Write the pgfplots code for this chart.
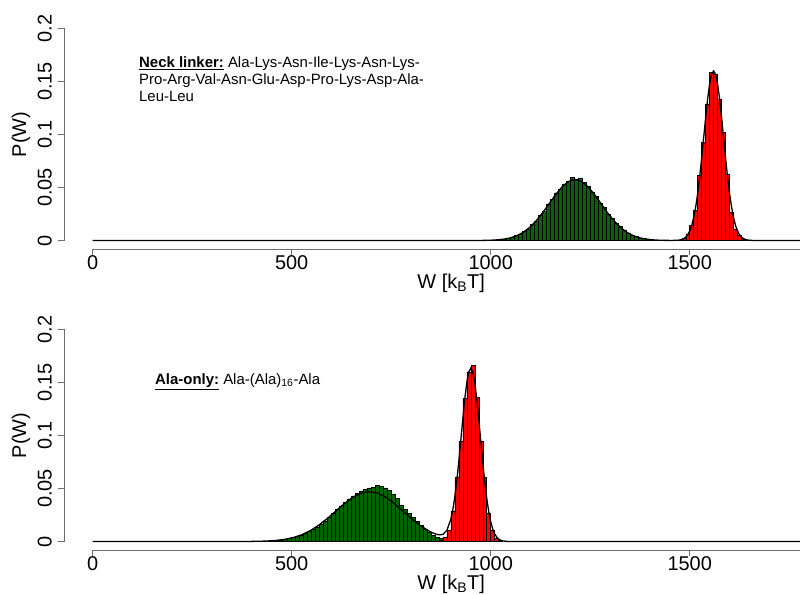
\documentclass[border=0pt]{standalone}
\usepackage{fontspec}
\setmainfont{Liberation Sans}
\usepackage{pgfplots}
\pgfplotsset{compat=1.18}
\definecolor{hgreen}{RGB}{0,100,0}
\definecolor{hred}{RGB}{255,0,0}
\definecolor{axgray}{RGB}{110,110,110}
\pgfplotsset{
  rstyle/.style={
    scale only axis, width=736bp, height=229bp,
    xmin=-72, xmax=1777, ymin=-0.008, ymax=0.208,
    clip=false,
    axis line style={draw=none},
    tick pos=left, tick align=outside,
    major tick length=6bp,
    tick style={axgray, line width=0.8bp},
    xtick={0,500,1000,1500}, xticklabels={0,500,1000,1500},
    ytick={0,0.05,0.1,0.15,0.2}, yticklabels={0,0.05,0.1,0.15,0.2},
    ticklabel style={font=\fontsize{20}{24}\selectfont, inner sep=0pt},
    xticklabel style={anchor=north},
    yticklabel style={rotate=90, anchor=south},
    xticklabel shift=0bp,
    yticklabel shift=6bp,
    xlabel={W [k\textsubscript{B}T]}, ylabel={P(W)},
    label style={font=\fontsize{20}{24}\selectfont, inner sep=0pt},
    xlabel style={at={(axis description cs:0.526,0)}, anchor=north, yshift=-25bp},
    ylabel style={at={([xshift=-33.5bp]axis description cs:0,0.5)}, anchor=south},
  },
  hbar/.style={ybar, bar width=10, bar shift=0pt, draw=black, line width=0.5bp, fill=#1},
  fitline/.style={black, line width=1.3bp, mark=none},
}
\begin{document}
\begin{tikzpicture}
\path[use as bounding box] (0,0) rectangle (800bp,595bp);
% ---------------- top panel ----------------
\begin{axis}[rstyle, at={(64bp,346bp)}, anchor=south west]
\addplot[hbar=hgreen] coordinates {
(985,0.0001) (995,0.0002) (1005,0.0004) (1015,0.0006) (1025,0.0010) (1035,0.0014)
(1045,0.0022) (1055,0.0030) (1065,0.0046) (1075,0.0060) (1085,0.0088) (1095,0.0110)
(1105,0.0152) (1115,0.0185) (1125,0.0240) (1135,0.0280) (1145,0.0342) (1155,0.0388)
(1165,0.0450) (1175,0.0485) (1185,0.0535) (1195,0.0560) (1205,0.0594) (1215,0.0582)
(1225,0.0590) (1235,0.0548) (1245,0.0512) (1255,0.0458) (1265,0.0418) (1275,0.0356)
(1285,0.0310) (1295,0.0250) (1305,0.0210) (1315,0.0160) (1325,0.0130) (1335,0.0094)
(1345,0.0072) (1355,0.0050) (1365,0.0037) (1375,0.0024) (1385,0.0017) (1395,0.0011)
(1405,0.0007) (1415,0.0004) (1425,0.0003) (1435,0.0002) (1445,0.0001)
};
\addplot[hbar=hred] coordinates {
(1475,0.0004) (1485,0.0020) (1495,0.0063) (1505,0.0142) (1515,0.0283) (1525,0.0613)
(1535,0.0928) (1545,0.1290) (1555,0.1588) (1565,0.1566) (1575,0.1336) (1585,0.1022)
(1595,0.0629) (1605,0.0267) (1615,0.0110) (1625,0.0047) (1635,0.0015) (1645,0.0004)
};
\addplot[fitline] coordinates {
(0,0) (952,0.00002) (968.25,0.00005) (984.5,0.00013) (1000.75,0.00029) (1017,0.00064)
(1033.25,0.00131) (1049.5,0.00252) (1065.75,0.00458) (1082,0.00778) (1098.25,0.01244)
(1114.5,0.01867) (1130.75,0.02632) (1147,0.03487) (1163.25,0.04340) (1179.5,0.05074)
(1195.75,0.05573) (1212,0.0575) (1228.25,0.05573) (1244.5,0.05074) (1260.75,0.04340)
(1277,0.03487) (1293.25,0.02632) (1309.5,0.01867) (1325.75,0.01244) (1342,0.00778)
(1358.25,0.00458) (1374.5,0.00252) (1390.75,0.00131) (1407,0.00064) (1423.25,0.00029)
(1439.5,0.00013) (1455.75,0.00008) (1470,0.00027) (1475,0.0005) (1480,0.00096)
(1485,0.0018) (1490,0.0032) (1495,0.0054) (1500,0.0090) (1505,0.0142) (1510,0.0217)
(1515,0.0317) (1520,0.0445) (1525,0.0600) (1530,0.0779) (1535,0.0970) (1540,0.1162)
(1545,0.1336) (1550,0.1477) (1555,0.1568) (1560,0.1600) (1565,0.1568) (1570,0.1477)
(1575,0.1336) (1580,0.1162) (1585,0.0970) (1590,0.0779) (1595,0.0600) (1600,0.0445)
(1605,0.0317) (1610,0.0217) (1615,0.0142) (1620,0.0090) (1625,0.0054) (1630,0.0032)
(1635,0.0018) (1640,0.00096) (1645,0.0005) (1650,0.00024) (1660,0.00005) (1777,0)
};
\draw[axgray, line width=0.8bp] (axis cs:0,-0.008) -- (axis cs:1777,-0.008);
\draw[axgray, line width=0.8bp] (axis cs:-72,0) -- (axis cs:-72,0.2);
\node[anchor=north west, align=left, inner sep=0pt, font=\fontsize{15}{17}\selectfont]
  at (axis cs:116.3,0.1736)
  {\underline{\textbf{Neck linker:}} Ala-Lys-Asn-Ile-Lys-Asn-Lys-\\Pro-Arg-Val-Asn-Glu-Asp-Pro-Lys-Asp-Ala-\\Leu-Leu};
\end{axis}
% ---------------- bottom panel ----------------
\begin{axis}[rstyle, at={(64bp,45bp)}, anchor=south west]
\addplot[hbar=hgreen] coordinates {
(425,0.0002) (435,0.0003) (445,0.0005) (455,0.0008) (465,0.0010) (475,0.0014)
(485,0.0020) (495,0.0027) (505,0.0036) (515,0.0046) (525,0.0060) (535,0.0075)
(545,0.0094) (555,0.0115) (565,0.0138) (575,0.0165) (585,0.0195) (595,0.0228)
(605,0.0262) (615,0.0300) (625,0.0336) (635,0.0370) (645,0.0402) (655,0.0430)
(665,0.0455) (675,0.0478) (685,0.0492) (695,0.0505) (705,0.0512) (715,0.0530)
(725,0.0522) (735,0.0505) (745,0.0480) (755,0.0448) (765,0.0410) (775,0.0345)
(785,0.0300) (795,0.0262) (805,0.0225) (815,0.0190) (825,0.0150) (835,0.0115)
(845,0.0085) (855,0.0060) (865,0.0042) (875,0.0030) (885,0.0020) (895,0.0012)
(905,0.0006) (915,0.0003)
};
\addplot[hbar=hred] coordinates {
(875,0.0010) (885,0.0040) (895,0.0110) (905,0.0290) (915,0.0610) (925,0.0950)
(935,0.1350) (945,0.1600) (955,0.1660) (965,0.1360) (975,0.0950) (985,0.0607)
(995,0.0270) (1005,0.0105) (1015,0.0030) (1025,0.0008)
};
\addplot[fitline] coordinates {
(0,0) (355,0.00002) (376.25,0.00004) (397.5,0.0001) (418.75,0.00024) (440,0.00052)
(461.25,0.00107) (482.5,0.00206) (503.75,0.00374) (525,0.00636) (546.25,0.01017)
(567.5,0.01526) (588.75,0.02152) (610,0.02851) (631.25,0.03548) (652.5,0.04148)
(673.75,0.04555) (695,0.047) (716.25,0.04555) (737.5,0.04148) (758.75,0.03548)
(780,0.02851) (801.25,0.02152) (822.5,0.01526) (843.75,0.01017) (850,0.0089)
(860,0.0073) (870,0.0063) (880,0.0067) (890,0.0106) (900,0.0212) (905,0.0303)
(910,0.0426) (915,0.0580) (920,0.0760) (925,0.0960) (930,0.1162) (935,0.1350)
(940,0.1501) (945,0.1601) (950,0.1635) (955,0.1599) (960,0.1498) (965,0.1344)
(970,0.1155) (975,0.0950) (980,0.0748) (985,0.0564) (990,0.0408) (995,0.0282)
(1000,0.0186) (1005,0.0118) (1010,0.0072) (1015,0.0042) (1020,0.0023) (1025,0.0012)
(1030,0.0006) (1040,0.00014) (1050,0.00003) (1777,0)
};
\draw[axgray, line width=0.8bp] (axis cs:0,-0.008) -- (axis cs:1777,-0.008);
\draw[axgray, line width=0.8bp] (axis cs:-72,0) -- (axis cs:-72,0.2);
\node[anchor=base west, inner sep=0pt, font=\fontsize{15}{17}\selectfont]
  at (axis cs:156.6,0.1481)
  {\underline{\textbf{Ala-only:}} Ala-(Ala)\textsubscript{16}-Ala};
\end{axis}
\end{tikzpicture}
\end{document}
